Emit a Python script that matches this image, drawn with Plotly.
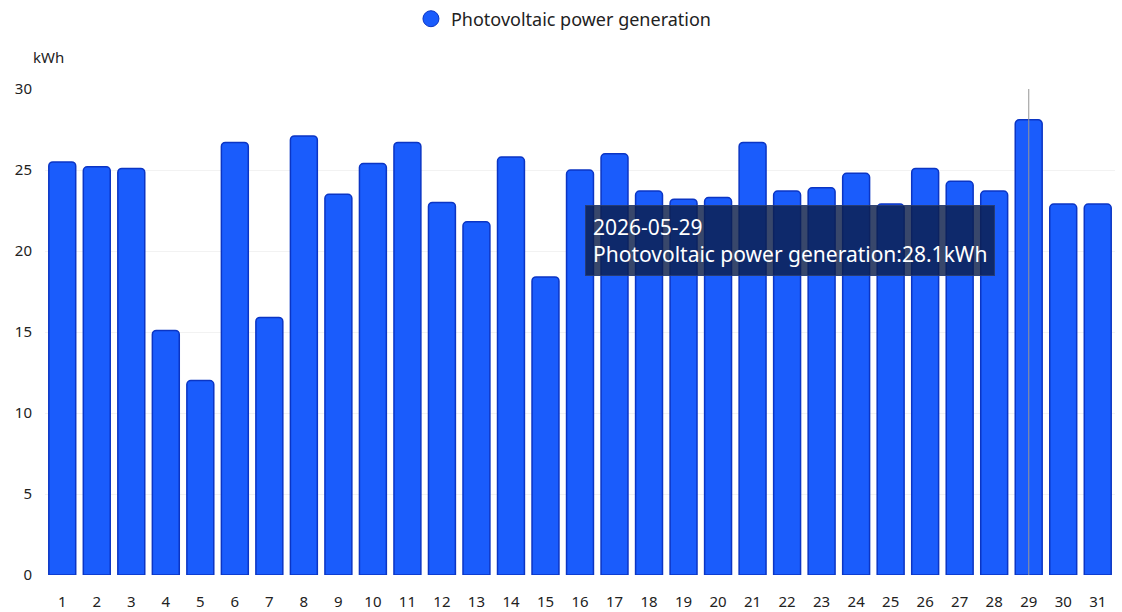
import plotly.graph_objects as go

# Daily photovoltaic output for May 2026 (kWh)
month = "2026-05"
days = [str(d) for d in range(1, 32)]
generation = [25.5, 25.2, 25.1, 15.1, 12.0, 26.7, 15.9, 27.1, 23.5, 25.4,
              26.7, 23.0, 21.8, 25.8, 18.4, 25.0, 26.0, 23.7, 23.2, 23.3,
              26.7, 23.7, 23.9, 24.8, 22.9, 25.1, 24.3, 23.7, 28.1, 22.9,
              22.9]
series_name = "Photovoltaic power generation"
unit = "kWh"
y_ticks = [0, 5, 10, 15, 20, 25, 30]
highlight_day = "29"

BAR = "#1a5cfc"
EDGE = "#0b35c4"
TEXT = "#222222"

fig = go.Figure()

fig.add_trace(go.Bar(
    x=days, y=generation, name=series_name, showlegend=False,
    marker=dict(color=BAR, line=dict(color=EDGE, width=1.5), cornerradius=4),
    width=0.78,
))

# legend entry with a round marker
fig.add_trace(go.Scatter(
    x=[None], y=[None], mode="markers", name=series_name,
    marker=dict(color=BAR, size=18, symbol="circle", line=dict(color=EDGE, width=1)),
))

# axis pointer line on the highlighted day (category index)
hl_idx = days.index(highlight_day)
fig.add_shape(type="line", xref="x", yref="y", x0=hl_idx, x1=hl_idx,
              y0=0, y1=30, line=dict(color="rgba(150,150,150,0.85)", width=1.2),
              layer="above")

hl_value = generation[hl_idx]
tip = f"{month}-{int(highlight_day):02d}<br>{series_name}:{hl_value}{unit}"
fig.add_annotation(
    xref="paper", yref="paper", x=0.696, y=0.689, xanchor="center", yanchor="middle",
    text=tip, showarrow=False, align="left",
    font=dict(color="white", size=21, family="Noto Sans"),
    bgcolor="rgba(12,30,75,0.82)", bordercolor="rgba(40,60,110,0.9)", borderwidth=1,
    borderpad=7,
)

fig.add_annotation(
    xref="paper", yref="paper", x=-0.013, y=1.066, xanchor="left", yanchor="middle",
    text=unit, showarrow=False, font=dict(color=TEXT, size=15, family="Noto Sans"),
)

fig.update_layout(
    width=1122, height=612,
    margin=dict(l=45, r=7, t=89, b=37, autoexpand=False),
    paper_bgcolor="white", plot_bgcolor="white",
    font=dict(family="Noto Sans", color=TEXT, size=14),
    bargap=0.22,
    legend=dict(orientation="h", x=0.485, xanchor="center", y=1.144, yanchor="middle",
                font=dict(size=18, color=TEXT), itemsizing="trace"),
    xaxis=dict(type="category", showgrid=False, showline=False, ticks="",
               tickfont=dict(size=15, color=TEXT), ticklabelstandoff=16),
    yaxis=dict(range=[0, 30], tickvals=y_ticks, showgrid=True,
               gridcolor="rgba(230,230,230,0.5)", zeroline=False, showline=False,
               ticks="", tickfont=dict(size=15, color=TEXT), ticklabelstandoff=12),
)

fig.write_html("out.html")
